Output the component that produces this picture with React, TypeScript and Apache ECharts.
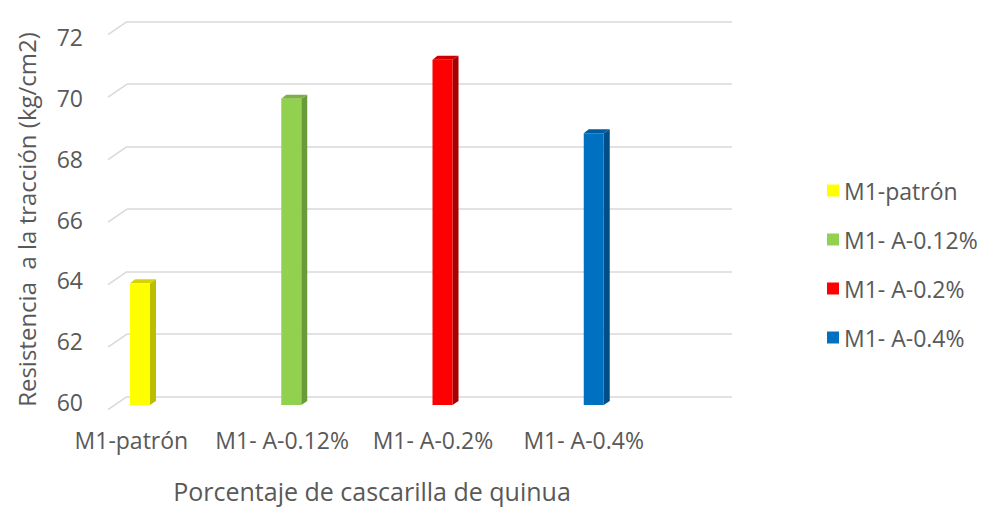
import React, { useEffect, useRef } from "react";
import * as echarts from "echarts";

const categories = ["M1-patrón", "M1- A-0.12%", "M1- A-0.2%", "M1- A-0.4%"];
const values = [63.9, 69.8, 71.05, 68.7];
const yTicks = [60, 62, 64, 66, 68, 70, 72];
const frontColors = ["#FFFF00", "#92D050", "#FF0000", "#0070C0"];
const sideColors = ["#BDBD00", "#6B9A3A", "#A80000", "#004E87"];
const topColors = ["#D4D400", "#7DB045", "#CC0000", "#005C9E"];

const yTitle = "Resistencia  a la tracción (kg/cm2)";
const xTitle = "Porcentaje de cascarilla de quinua";

const FONT = "'Open Sans', 'Noto Sans', sans-serif";
const TEXT = "#595959";
const GRID = "#d9d9d9";

export default function App() {
  const ref = useRef<HTMLDivElement>(null);
  useEffect(() => {
    if (!ref.current) return;
    const chart = echarts.init(ref.current, null, { renderer: "svg" });

    const barSeries = categories.map((name, k) => ({
      type: "custom",
      name,
      xAxisIndex: 0,
      yAxisIndex: 0,
      itemStyle: { color: frontColors[k] },
      data: [[k, values[k]]],
      encode: { x: 0, y: 1 },
      z: 5,
      renderItem: (params: any, api: any) => {
        const cat = api.value(0);
        const v = api.value(1);
        const top0 = api.coord([cat, v]);
        const base0 = api.coord([cat, 60]);
        const band = api.size([1, 0])[0];
        const xL = top0[0] - band / 2 + 3;
        const yTop = top0[1] + 8.3;
        const yBot = base0[1] + 8.3;
        const w = 20;
        const dx = 6;
        const dy = 4;
        return {
          type: "group",
          children: [
            {
              type: "polygon",
              shape: { points: [[xL + w, yTop], [xL + w + dx, yTop - dy], [xL + w + dx, yBot - dy], [xL + w, yBot]] },
              style: { fill: sideColors[k] },
            },
            {
              type: "polygon",
              shape: { points: [[xL, yTop], [xL + w, yTop], [xL + w + dx, yTop - dy], [xL + dx - 1, yTop - dy]] },
              style: { fill: topColors[k] },
            },
            {
              type: "rect",
              shape: { x: xL, y: yTop, width: w, height: yBot - yTop },
              style: { fill: frontColors[k] },
            },
          ],
        };
      },
    }));

    const diagSeries = {
      type: "custom",
      name: "diag",
      xAxisIndex: 0,
      yAxisIndex: 0,
      silent: true,
      data: yTicks.map((v) => [0, v]),
      encode: { x: 0, y: 1 },
      z: 1,
      renderItem: (params: any, api: any) => {
        const p = api.coord([0, api.value(1)]);
        const cs = params.coordSys;
        return {
          type: "line",
          shape: { x1: cs.x - 19, y1: p[1] + 13, x2: cs.x, y2: p[1] },
          style: { stroke: GRID, lineWidth: 1.5 },
        };
      },
    };

    chart.setOption({
      animation: false,
      textStyle: { fontFamily: FONT },
      legend: {
        data: categories,
        orient: "vertical",
        left: 822,
        top: 174,
        icon: "rect",
        itemWidth: 12,
        itemHeight: 12,
        itemGap: 26,
        textStyle: { fontSize: 23, color: TEXT, fontFamily: FONT, lineHeight: 23, padding: [0, 0, 0, 0] },
      },
      grid: [
        { left: 127, top: 21.7, width: 605, height: 375 },
        { left: 56, top: 37, width: 603, height: 374 },
      ],
      xAxis: [
        {
          type: "category",
          gridIndex: 0,
          data: categories,
          axisLine: { show: false },
          axisTick: { show: false },
          axisLabel: { show: false },
          splitLine: { show: false },
        },
        {
          type: "category",
          gridIndex: 1,
          data: categories,
          axisLine: { show: false },
          axisTick: { show: false },
          axisLabel: { interval: 0, margin: 26, fontSize: 23, color: TEXT, fontFamily: FONT },
          name: xTitle,
          nameLocation: "middle",
          nameGap: 76,
          nameTextStyle: { fontSize: 25, color: TEXT, fontFamily: FONT, padding: [0, 0, 0, 29] },
        },
      ],
      yAxis: [
        {
          type: "value",
          gridIndex: 0,
          min: 60,
          max: 72,
          interval: 2,
          axisLine: { show: false },
          axisTick: { show: false },
          axisLabel: { show: false },
          splitLine: { show: true, lineStyle: { color: GRID, width: 1.5 } },
        },
        {
          type: "value",
          gridIndex: 1,
          min: 60,
          max: 72,
          interval: 2,
          offset: -52,
          axisLine: { show: false },
          axisTick: { show: false },
          splitLine: { show: false },
          axisLabel: { margin: 25, fontSize: 23, color: TEXT, fontFamily: FONT },
          name: yTitle,
          nameLocation: "middle",
          nameRotate: 90,
          nameGap: 70,
          nameTextStyle: { fontSize: 24, color: TEXT, fontFamily: FONT },
        },
      ],
      series: [
        diagSeries,
        ...barSeries,
        { type: "line", xAxisIndex: 1, yAxisIndex: 1, data: [], silent: true },
      ],
    });
    return () => chart.dispose();
  }, []);
  return (
    <div
      ref={ref}
      style={{ position: "fixed", left: 0, top: 0, width: 981, height: 508, background: "#fff" }}
    />
  );
}
